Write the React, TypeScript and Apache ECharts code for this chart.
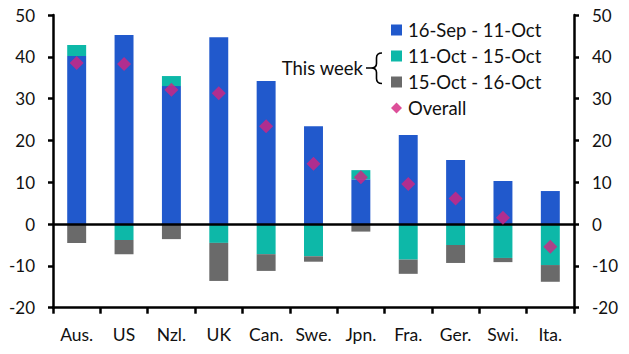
import React, { useEffect, useRef } from "react";
import * as echarts from "echarts";

const categories = ["Aus.", "US", "Nzl.", "UK", "Can.", "Swe.", "Jpn.", "Fra.", "Ger.", "Swi.", "Ita."];
const sepToOct11 = [40.2, 45.2, 33.0, 44.7, 34.2, 23.4, 10.7, 21.3, 15.3, 10.3, 7.9];
const oct11To15 = [2.6, -3.8, 2.4, -4.5, -7.2, -7.7, 2.2, -8.5, -5.0, -8.1, -9.8];
const oct15To16 = [-4.5, -3.4, -3.6, -9.1, -4.0, -1.3, -1.8, -3.4, -4.3, -1.0, -4.0];
const overall = [38.5, 38.3, 32.1, 31.3, 23.4, 14.4, 11.2, 9.6, 6.1, 1.5, -5.4];
const seriesNames = ["16-Sep - 11-Oct", "11-Oct - 15-Oct", "15-Oct - 16-Oct", "Overall"];
const yMin = -20;
const yMax = 50;
const yInterval = 10;

const FONT = "Lato";
const BLUE = "#2159CC";
const TEAL = "#0DB8A8";
const GREY = "#6A6A6A";
const MAGENTA = "#D4237F";

let registered = false;
function registerBrace() {
  if (registered) return;
  registered = true;
  const d =
    "M382,53 Q376.5,53 376.5,58 L376.5,63.5 Q376.5,68 371,68 L366,68 M371,68 Q376.5,68 376.5,72.5 L376.5,78.5 Q376.5,83.5 382,83.5";
  echarts.graphic.registerShape("brace", echarts.graphic.extendPath(d, {}));
}

export default function App() {
  const ref = useRef<HTMLDivElement>(null);
  useEffect(() => {
    if (!ref.current) return;
    registerBrace();
    const chart = echarts.init(ref.current, undefined, { renderer: "svg" });
    const yAxisCommon = {
      type: "value",
      min: yMin,
      max: yMax,
      interval: yInterval,
      splitLine: { show: false },
      axisLine: { show: true, lineStyle: { color: "#000", width: 2.5 } },
      axisTick: { show: true, length: 5, lineStyle: { color: "#000", width: 2.5 } },
      axisLabel: { fontFamily: FONT, fontSize: 17, color: "#111", margin: 18 },
    };
    chart.setOption({
      animation: false,
      grid: { left: 53, right: 55, top: 15, bottom: 46.3, containLabel: false },
      legend: {
        orient: "vertical",
        left: 391,
        top: 20.5,
        padding: 0,
        itemWidth: 11,
        itemHeight: 11,
        itemGap: 7,
        textStyle: { fontFamily: FONT, fontSize: 18.5, color: "#111", lineHeight: 17.5, padding: [0, 0, 0, 1] },
        data: [
          { name: seriesNames[0], icon: "rect" },
          { name: seriesNames[1], icon: "rect" },
          { name: seriesNames[2], icon: "rect" },
          { name: seriesNames[3], icon: "diamond" },
        ],
      },
      xAxis: {
        type: "category",
        data: categories,
        boundaryGap: true,
        axisLine: { onZero: false, lineStyle: { color: "#000", width: 2.5 } },
        axisTick: { show: true, length: 6, alignWithLabel: false, lineStyle: { color: "#000", width: 2.5 } },
        axisLabel: { fontFamily: FONT, fontSize: 17.5, color: "#111", margin: 18, interval: 0 },
      },
      yAxis: [
        { ...yAxisCommon, position: "left" },
        { ...yAxisCommon, position: "right" },
      ],
      graphic: [
        {
          type: "text",
          x: 363,
          y: 68,
          style: {
            text: "This week",
            fontFamily: FONT,
            fontSize: 18.5,
            fill: "#111",
            textAlign: "right",
            textVerticalAlign: "middle",
          },
        },
        {
          type: "brace",
          x: 0,
          y: 0,
          style: { stroke: "#000", fill: null, lineWidth: 1.6 },
        },
      ],
      series: [
        {
          name: seriesNames[0],
          type: "bar",
          stack: "s",
          barWidth: "40%",
          data: sepToOct11,
          itemStyle: { color: BLUE },
          markLine: {
            silent: true,
            symbol: "none",
            label: { show: false },
            lineStyle: { color: "#000", width: 2.5, type: "solid" },
            data: [{ yAxis: 0 }],
            z: 10,
          },
        },
        {
          name: seriesNames[1],
          type: "bar",
          stack: "s",
          barWidth: "40%",
          data: oct11To15,
          itemStyle: { color: TEAL },
        },
        {
          name: seriesNames[2],
          type: "bar",
          stack: "s",
          barWidth: "40%",
          data: oct15To16,
          itemStyle: { color: GREY },
        },
        {
          name: seriesNames[3],
          type: "scatter",
          symbol: "diamond",
          symbolSize: 14,
          data: overall,
          itemStyle: { color: MAGENTA },
          z: 20,
        },
      ],
    });
    return () => chart.dispose();
  }, []);
  return <div ref={ref} style={{ width: 629, height: 354, position: "absolute", left: 0, top: 0 }} />;
}
